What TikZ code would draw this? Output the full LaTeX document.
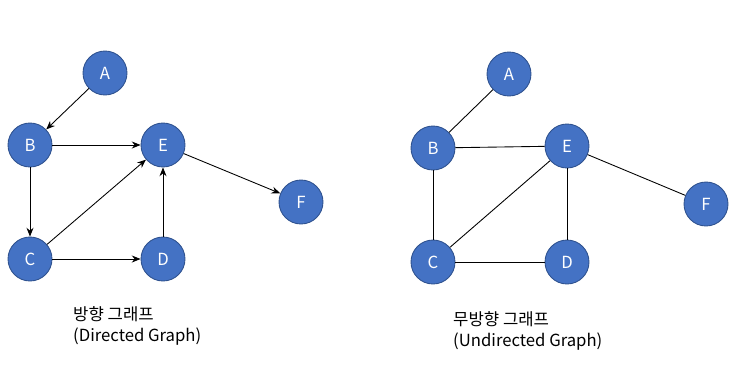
\documentclass[tikz,border=0pt]{standalone}
\usepackage{fontspec}
\setmainfont{Noto Sans CJK KR}
\usetikzlibrary{arrows.meta}
\definecolor{vtxfill}{RGB}{68,114,196}
\definecolor{vtxline}{RGB}{47,82,143}

\begin{document}
\begin{tikzpicture}[
    x=0.02cm, y=-0.02cm,
    vertex/.style={circle, fill=vtxfill, draw=vtxline, line width=0.5pt,
                   minimum size=0.88cm, inner sep=0pt, text=white, font=\fontsize{9.5}{11}\selectfont},
    edge/.style={line width=0.5pt},
    arc/.style={line width=0.5pt, -{Stealth[length=5pt,width=4pt]}},
    caption/.style={font=\fontsize{9.5}{12}\selectfont, align=left, anchor=north west}
]
% canvas: 1 unit = 1 px of the 749x373 image
\useasboundingbox (0,0) rectangle (749,373);

% Directed graph (left)
\node[vertex] (A1) at (105,73)  {A};
\node[vertex] (B1) at (30,145)  {B};
\node[vertex] (E1) at (163,145) {E};
\node[vertex] (C1) at (30,259)  {C};
\node[vertex] (D1) at (163,259) {D};
\node[vertex] (F1) at (301,202) {F};

\draw[arc] (A1) -- (B1);
\draw[arc] (B1) -- (E1);
\draw[arc] (B1) -- (C1);
\draw[arc] (C1) -- (E1);
\draw[arc] (C1) -- (D1);
\draw[arc] (D1) -- (E1);
\draw[arc] (E1) -- (F1);

\node[caption] (cap1) at (67,300) {방향 그래프\\(Directed Graph)};

% Undirected graph (right)
\node[vertex] (A2) at (509,74)  {A};
\node[vertex] (B2) at (433,148) {B};
\node[vertex] (E2) at (567,146) {E};
\node[vertex] (C2) at (433,262) {C};
\node[vertex] (D2) at (567,262) {D};
\node[vertex] (F2) at (706,204) {F};

\draw[edge] (A2) -- (B2);
\draw[edge] (B2) -- (E2);
\draw[edge] (B2) -- (C2);
\draw[edge] (C2) -- (E2);
\draw[edge] (C2) -- (D2);
\draw[edge] (D2) -- (E2);
\draw[edge] (E2) -- (F2);

\node[caption] (cap2) at (447,305) {무방향 그래프\\(Undirected Graph)};
\end{tikzpicture}
\end{document}
